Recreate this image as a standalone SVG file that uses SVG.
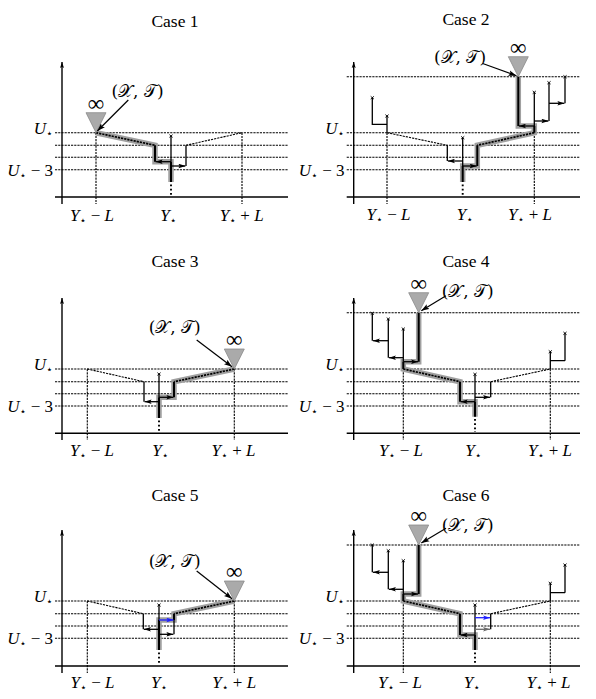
<svg xmlns="http://www.w3.org/2000/svg" width="596" height="699" viewBox="0 0 596 699">
<style>
text{font-family:"Liberation Serif","DejaVu Serif",serif;fill:#000}
.t{font-size:17.5px}
.m{font-size:17px}
.it{font-style:italic}
.s{font-size:11px;font-family:"DejaVu Sans",sans-serif}
.inf{font-size:23px}
.cal{font-size:17px;font-family:"DejaVu Serif","DejaVu Sans","Noto Sans",serif}
.ax{stroke:#000;stroke-width:1.4;fill:none}
.dh{stroke:#000;stroke-width:1.1;stroke-dasharray:2.2 1;fill:none}
.dd{stroke:#000;stroke-width:1.1;stroke-dasharray:2.2 1;fill:none}
.halo{stroke:#a0a0a0;stroke-width:5.5;fill:none;stroke-linejoin:miter}
.tk{stroke:#000;stroke-width:2;fill:none}
.tkd{stroke:#000;stroke-width:1.7;stroke-dasharray:2.2 1;fill:none}
.ln{stroke:#000;stroke-width:1.3;fill:none}
.ar{stroke:#000;stroke-width:1.3;fill:none;marker-end:url(#ah)}
.arb{stroke:#1f1fff;stroke-width:1.3;fill:none;marker-end:url(#ahb)}
.arg{stroke:#6a6a6a;stroke-width:1.3;fill:none;marker-end:url(#ahg)}
.dots{stroke:#000;stroke-width:1.9;stroke-dasharray:1.8 2.4;fill:none}
.tri{fill:#aaa;stroke:#8a8a8a;stroke-width:0.8}
.ptr{stroke:#000;stroke-width:1.2;fill:none;marker-end:url(#ahp)}
</style>
<defs>
<marker id="ah" viewBox="0 0 7 5" refX="7" refY="2.5" markerWidth="7" markerHeight="5" markerUnits="userSpaceOnUse" orient="auto"><path d="M0,0.2L7,2.5L0,4.8L1.4,2.5z" fill="#000"/></marker>
<marker id="ahb" viewBox="0 0 7 5" refX="7" refY="2.5" markerWidth="7" markerHeight="5" markerUnits="userSpaceOnUse" orient="auto"><path d="M0,0.2L7,2.5L0,4.8L1.4,2.5z" fill="#1f1fff"/></marker>
<marker id="ahg" viewBox="0 0 7 5" refX="7" refY="2.5" markerWidth="7" markerHeight="5" markerUnits="userSpaceOnUse" orient="auto"><path d="M0,0.2L7,2.5L0,4.8L1.4,2.5z" fill="#6a6a6a"/></marker>
<marker id="ahp" viewBox="0 0 8 6" refX="8" refY="3" markerWidth="8" markerHeight="6" markerUnits="userSpaceOnUse" orient="auto"><path d="M0,0.2L8,3L0,5.8L1.6,3z" fill="#000"/></marker>
<marker id="ahx" viewBox="0 0 6 5" refX="6" refY="2.5" markerWidth="6" markerHeight="5" markerUnits="userSpaceOnUse" orient="auto"><path d="M0,0.5L6,2.5L0,4.5L1.2,2.5z" fill="#000"/></marker>
<path id="xm" d="M-1.6,-1.4L1.6,1.4M-1.6,1.4L1.6,-1.4" stroke="#000" stroke-width="0.9" fill="none"/>
</defs>

<!-- ================= CASE 1 ================= -->
<g id="case1">
<text class="t" x="175" y="27" text-anchor="middle">Case 1</text>
<g id="c1-axes">
<line class="ax" x1="62" y1="204" x2="62" y2="62" marker-end="url(#ahx)"/>
<line class="ax" x1="55" y1="197" x2="288" y2="197"/>
<path class="dh" d="M55,132.7H288M55,145.3H288M55,157.3H288M55,169.7H288M96,132.7V204M242,132.7V204"/>
<text class="m" x="53" y="133.5" text-anchor="end"><tspan class="it">U</tspan><tspan class="s" dy="3">⋆</tspan></text>
<text class="m" x="53" y="175.5" text-anchor="end"><tspan class="it">U</tspan><tspan class="s" dy="3">⋆</tspan><tspan dy="-3"> − 3</tspan></text>
<text class="m" x="92" y="221" text-anchor="middle"><tspan class="it">Y</tspan><tspan class="s" dy="3">⋆</tspan><tspan dy="-3"> − </tspan><tspan class="it">L</tspan></text>
<text class="m" x="168.5" y="221" text-anchor="middle"><tspan class="it">Y</tspan><tspan class="s" dy="3">⋆</tspan></text>
<text class="m" x="241.7" y="221" text-anchor="middle"><tspan class="it">Y</tspan><tspan class="s" dy="3">⋆</tspan><tspan dy="-3"> + </tspan><tspan class="it">L</tspan></text>
</g>
<g id="c1-connectors">
<polyline class="halo" points="96,132.7 155,145.3 155,161.7 171,161.7 171,182"/>
<line class="tkd" x1="96" y1="132.7" x2="155" y2="145.3"/>
<path class="tk" d="M155,145.3V161.7M171,161.7V182"/>
<path class="ln" d="M171,136V161.7M186,145.3V166"/>
<line class="ar" x1="171" y1="161.7" x2="155.6" y2="161.7"/>
<line class="ar" x1="171" y1="166" x2="185.4" y2="166"/>
<line class="dd" x1="186" y1="145.3" x2="242" y2="132.7"/>
<line class="dots" x1="171" y1="184.5" x2="171" y2="196"/>
<use href="#xm" x="171" y="136"/>
</g>
<g id="c1-source">
<polygon class="tri" points="86,112.7 106,112.7 96,132.7"/>
<text class="inf" x="96" y="111" text-anchor="middle">∞</text>
<text class="cal" x="137.5" y="97" text-anchor="middle">(𝒳, 𝒯)</text>
<line class="ptr" x1="128.3" y1="100" x2="97.3" y2="131"/>
</g>
</g>

<!-- ================= CASE 2 ================= -->
<g id="case2">
<text class="t" x="466" y="25" text-anchor="middle">Case 2</text>
<g id="c2-axes">
<line class="ax" x1="353.7" y1="204" x2="353.7" y2="62" marker-end="url(#ahx)"/>
<line class="ax" x1="346.7" y1="197" x2="580" y2="197"/>
<path class="dh" d="M346.7,76.7H580M346.7,132.7H580M346.7,145.3H580M346.7,157.3H580M346.7,169.7H580M387,132.7V204M534.3,132.7V204"/>
<text class="m" x="344.5" y="133.5" text-anchor="end"><tspan class="it">U</tspan><tspan class="s" dy="3">⋆</tspan></text>
<text class="m" x="344.5" y="175.5" text-anchor="end"><tspan class="it">U</tspan><tspan class="s" dy="3">⋆</tspan><tspan dy="-3"> − 3</tspan></text>
<text class="m" x="388.5" y="220" text-anchor="middle"><tspan class="it">Y</tspan><tspan class="s" dy="3">⋆</tspan><tspan dy="-3"> − </tspan><tspan class="it">L</tspan></text>
<text class="m" x="465" y="220" text-anchor="middle"><tspan class="it">Y</tspan><tspan class="s" dy="3">⋆</tspan></text>
<text class="m" x="530" y="220" text-anchor="middle"><tspan class="it">Y</tspan><tspan class="s" dy="3">⋆</tspan><tspan dy="-3"> + </tspan><tspan class="it">L</tspan></text>
</g>
<g id="c2-connectors">
<polyline class="halo" points="518.3,76.7 518.3,126 534.3,126 534.3,132.7 477.3,145.3 477.3,166 462.7,166 462.7,182"/>
<line class="tkd" x1="534.3" y1="132.7" x2="477.3" y2="145.3"/>
<path class="tk" d="M518.3,76.7V126M534.3,126V132.7M477.3,145.3V166M462.7,166V182"/>
<path class="ln" d="M534.3,92.3V126M549,82.7V121M565,76.7V103.3M387,116V132.7M372.3,97.7V124.3H387M447.3,145.3V161M462.7,137.7V166"/>
<line class="ar" x1="534.3" y1="126" x2="518.9" y2="126"/>
<line class="ar" x1="534.3" y1="121" x2="548.4" y2="121"/>
<line class="ar" x1="549" y1="103.3" x2="564.4" y2="103.3"/>
<line class="ar" x1="462.7" y1="161" x2="447.9" y2="161"/>
<line class="ar" x1="462.7" y1="166" x2="476.7" y2="166"/>
<line class="dd" x1="387" y1="132.7" x2="447.3" y2="145.3"/>
<line class="dots" x1="462.7" y1="184.5" x2="462.7" y2="196"/>
<use href="#xm" x="534.3" y="92.3"/>
<use href="#xm" x="549" y="82.7"/>
<use href="#xm" x="565" y="76.7"/>
<use href="#xm" x="387" y="116"/>
<use href="#xm" x="372.3" y="97.7"/>
<use href="#xm" x="462.7" y="137.7"/>
</g>
<g id="c2-source">
<polygon class="tri" points="508.3,56.7 528.3,56.7 518.3,76.7"/>
<text class="inf" x="518.3" y="55" text-anchor="middle">∞</text>
<text class="cal" x="460" y="63" text-anchor="middle">(𝒳, 𝒯)</text>
<line class="ptr" x1="482.7" y1="63.5" x2="516.5" y2="75.8"/>
</g>
</g>

<!-- ================= CASE 3 ================= -->
<g id="case3">
<text class="t" x="175" y="267" text-anchor="middle">Case 3</text>
<g id="c3-axes">
<line class="ax" x1="62" y1="440" x2="62" y2="298" marker-end="url(#ahx)"/>
<line class="ax" x1="55" y1="433.3" x2="288" y2="433.3"/>
<path class="dh" d="M55,369H288M55,381.7H288M55,393.7H288M55,406H288M87.3,369V440M234.3,369V440"/>
<text class="m" x="53" y="370" text-anchor="end"><tspan class="it">U</tspan><tspan class="s" dy="3">⋆</tspan></text>
<text class="m" x="53" y="411.5" text-anchor="end"><tspan class="it">U</tspan><tspan class="s" dy="3">⋆</tspan><tspan dy="-3"> − 3</tspan></text>
<text class="m" x="92" y="455.5" text-anchor="middle"><tspan class="it">Y</tspan><tspan class="s" dy="3">⋆</tspan><tspan dy="-3"> − </tspan><tspan class="it">L</tspan></text>
<text class="m" x="160.5" y="455.5" text-anchor="middle"><tspan class="it">Y</tspan><tspan class="s" dy="3">⋆</tspan></text>
<text class="m" x="233.5" y="455.5" text-anchor="middle"><tspan class="it">Y</tspan><tspan class="s" dy="3">⋆</tspan><tspan dy="-3"> + </tspan><tspan class="it">L</tspan></text>
</g>
<g id="c3-connectors">
<polyline class="halo" points="234.3,369 174,381.7 174,397.3 159,397.3 159,418"/>
<line class="tkd" x1="234.3" y1="369" x2="174" y2="381.7"/>
<path class="tk" d="M174,381.7V397.3M159,397.3V418"/>
<path class="ln" d="M159,374V397.3M144,381.7V401.7"/>
<line class="ar" x1="159" y1="397.3" x2="173.4" y2="397.3"/>
<line class="ar" x1="159" y1="401.7" x2="144.6" y2="401.7"/>
<line class="dd" x1="87.3" y1="369" x2="144" y2="381.7"/>
<line class="dots" x1="159" y1="420.5" x2="159" y2="432"/>
<use href="#xm" x="159" y="374"/>
</g>
<g id="c3-source">
<polygon class="tri" points="224.3,349 244.3,349 234.3,369"/>
<text class="inf" x="234.3" y="347.3" text-anchor="middle">∞</text>
<text class="cal" x="174.7" y="333" text-anchor="middle">(𝒳, 𝒯)</text>
<line class="ptr" x1="196.7" y1="340" x2="232" y2="366.8"/>
</g>
</g>

<!-- ================= CASE 4 ================= -->
<g id="case4">
<text class="t" x="466" y="267" text-anchor="middle">Case 4</text>
<g id="c4-axes">
<line class="ax" x1="353.7" y1="440" x2="353.7" y2="298" marker-end="url(#ahx)"/>
<line class="ax" x1="346.7" y1="433.3" x2="580" y2="433.3"/>
<path class="dh" d="M346.7,312.7H580M346.7,369H580M346.7,381.7H580M346.7,393.7H580M346.7,406H580M403.3,369V440M550.3,369V440"/>
<text class="m" x="344.5" y="370" text-anchor="end"><tspan class="it">U</tspan><tspan class="s" dy="3">⋆</tspan></text>
<text class="m" x="344.5" y="411.5" text-anchor="end"><tspan class="it">U</tspan><tspan class="s" dy="3">⋆</tspan><tspan dy="-3"> − 3</tspan></text>
<text class="m" x="401" y="455.5" text-anchor="middle"><tspan class="it">Y</tspan><tspan class="s" dy="3">⋆</tspan><tspan dy="-3"> − </tspan><tspan class="it">L</tspan></text>
<text class="m" x="473.5" y="455.5" text-anchor="middle"><tspan class="it">Y</tspan><tspan class="s" dy="3">⋆</tspan></text>
<text class="m" x="550" y="455.5" text-anchor="middle"><tspan class="it">Y</tspan><tspan class="s" dy="3">⋆</tspan><tspan dy="-3"> + </tspan><tspan class="it">L</tspan></text>
</g>
<g id="c4-connectors">
<polyline class="halo" points="418.7,312.7 418.7,361.7 403.3,361.7 403.3,369 460,381.7 460,401.7 475,401.7 475,416.7"/>
<line class="tkd" x1="403.3" y1="369" x2="460" y2="381.7"/>
<path class="tk" d="M418.7,312.7V361.7M403.3,361.7V369M460,381.7V401.7M475,401.7V416.7"/>
<path class="ln" d="M403.3,329V361.7M388.3,319V357.7M372.3,313.3V340.7M475,374.3V401.7M490.7,381.7V397.3M550.3,351.7V369M550.3,360.7H565M565,333.3V360.7"/>
<line class="ar" x1="403.3" y1="361.7" x2="418.1" y2="361.7"/>
<line class="ar" x1="403.3" y1="357.7" x2="388.9" y2="357.7"/>
<line class="ar" x1="388.3" y1="340.7" x2="372.9" y2="340.7"/>
<line class="ar" x1="475" y1="401.7" x2="460.6" y2="401.7"/>
<line class="ar" x1="475" y1="397.3" x2="490.1" y2="397.3"/>
<line class="dd" x1="490.7" y1="381.7" x2="550.3" y2="369"/>
<line class="dots" x1="475" y1="419" x2="475" y2="432"/>
<use href="#xm" x="403.3" y="329"/>
<use href="#xm" x="388.3" y="319"/>
<use href="#xm" x="372.3" y="313.3"/>
<use href="#xm" x="475" y="374.3"/>
<use href="#xm" x="550.3" y="351.7"/>
<use href="#xm" x="565" y="333.3"/>
</g>
<g id="c4-source">
<polygon class="tri" points="408.7,292.7 428.7,292.7 418.7,312.7"/>
<text class="inf" x="418.7" y="291" text-anchor="middle">∞</text>
<text class="cal" x="467.7" y="297" text-anchor="middle">(𝒳, 𝒯)</text>
<line class="ptr" x1="446" y1="295.7" x2="421.3" y2="310.7"/>
</g>
</g>

<!-- ================= CASE 5 ================= -->
<g id="case5">
<text class="t" x="175" y="501" text-anchor="middle">Case 5</text>
<g id="c5-axes">
<line class="ax" x1="62" y1="673" x2="62" y2="530" marker-end="url(#ahx)"/>
<line class="ax" x1="55" y1="666" x2="288" y2="666"/>
<path class="dh" d="M55,601H288M55,613.7H288M55,626H288M55,638.3H288M87.3,601V673M234.3,601V673"/>
<text class="m" x="53" y="602" text-anchor="end"><tspan class="it">U</tspan><tspan class="s" dy="3">⋆</tspan></text>
<text class="m" x="53" y="644" text-anchor="end"><tspan class="it">U</tspan><tspan class="s" dy="3">⋆</tspan><tspan dy="-3"> − 3</tspan></text>
<text class="m" x="92.5" y="688" text-anchor="middle"><tspan class="it">Y</tspan><tspan class="s" dy="3">⋆</tspan><tspan dy="-3"> − </tspan><tspan class="it">L</tspan></text>
<text class="m" x="159.2" y="688" text-anchor="middle"><tspan class="it">Y</tspan><tspan class="s" dy="3">⋆</tspan></text>
<text class="m" x="234.2" y="688" text-anchor="middle"><tspan class="it">Y</tspan><tspan class="s" dy="3">⋆</tspan><tspan dy="-3"> + </tspan><tspan class="it">L</tspan></text>
</g>
<g id="c5-connectors">
<polyline class="halo" points="234.3,601 174,613.7 174,620 159,620 159,650"/>
<line class="tkd" x1="234.3" y1="601" x2="174" y2="613.7"/>
<path class="tk" d="M174,613.7V620M159,620V650"/>
<path class="ln" d="M174,613.7V634.3M159,605V650M143.3,613.7V629.3"/>
<line class="arb" x1="159" y1="620" x2="173.4" y2="620"/>
<line class="ar" x1="159" y1="634.3" x2="173.4" y2="634.3"/>
<line class="ar" x1="159" y1="629.3" x2="143.9" y2="629.3"/>
<line class="dd" x1="87.3" y1="601" x2="143.3" y2="613.7"/>
<line class="dots" x1="159" y1="652.5" x2="159" y2="665"/>
<use href="#xm" x="159" y="605"/>
</g>
<g id="c5-source">
<polygon class="tri" points="224.3,581 244.3,581 234.3,601"/>
<text class="inf" x="234.3" y="579.3" text-anchor="middle">∞</text>
<text class="cal" x="174.7" y="567" text-anchor="middle">(𝒳, 𝒯)</text>
<line class="ptr" x1="196.7" y1="571" x2="232" y2="598.8"/>
</g>
</g>

<!-- ================= CASE 6 ================= -->
<g id="case6">
<text class="t" x="466" y="501" text-anchor="middle">Case 6</text>
<g id="c6-axes">
<line class="ax" x1="353.7" y1="673" x2="353.7" y2="530" marker-end="url(#ahx)"/>
<line class="ax" x1="346.7" y1="666" x2="580" y2="666"/>
<path class="dh" d="M346.7,545H580M346.7,601H580M346.7,613.7H580M346.7,626H580M346.7,638.3H580M403.3,601V673M550.3,601V673"/>
<text class="m" x="344.5" y="602" text-anchor="end"><tspan class="it">U</tspan><tspan class="s" dy="3">⋆</tspan></text>
<text class="m" x="344.5" y="644" text-anchor="end"><tspan class="it">U</tspan><tspan class="s" dy="3">⋆</tspan><tspan dy="-3"> − 3</tspan></text>
<text class="m" x="400" y="688" text-anchor="middle"><tspan class="it">Y</tspan><tspan class="s" dy="3">⋆</tspan><tspan dy="-3"> − </tspan><tspan class="it">L</tspan></text>
<text class="m" x="472" y="688" text-anchor="middle"><tspan class="it">Y</tspan><tspan class="s" dy="3">⋆</tspan></text>
<text class="m" x="548.5" y="688" text-anchor="middle"><tspan class="it">Y</tspan><tspan class="s" dy="3">⋆</tspan><tspan dy="-3"> + </tspan><tspan class="it">L</tspan></text>
</g>
<g id="c6-connectors">
<polyline class="halo" points="418.7,545 418.7,594 403.3,594 403.3,601 460,613.7 460,635 475,635 475,650"/>
<line class="tkd" x1="403.3" y1="601" x2="460" y2="613.7"/>
<path class="tk" d="M418.7,545V594M403.3,594V601M460,613.7V635M475,635V650"/>
<path class="ln" d="M403.3,560.7V594M388.3,550.7V589.3M372.3,545V572.3M475,605V635M490.7,613.7V629.3M550.3,583.3V601M550.3,592.7H565M565,565V592.7"/>
<line class="ar" x1="403.3" y1="594" x2="418.1" y2="594"/>
<line class="ar" x1="403.3" y1="589.3" x2="388.9" y2="589.3"/>
<line class="ar" x1="388.3" y1="572.3" x2="372.9" y2="572.3"/>
<line class="ar" x1="475" y1="635" x2="460.6" y2="635"/>
<line class="arb" x1="475" y1="617.7" x2="490.1" y2="617.7"/>
<line class="arg" x1="475" y1="629.3" x2="490.1" y2="629.3"/>
<line class="dd" x1="490.7" y1="613.7" x2="550.3" y2="601"/>
<line class="dots" x1="475" y1="652.5" x2="475" y2="665"/>
<use href="#xm" x="403.3" y="560.7"/>
<use href="#xm" x="388.3" y="550.7"/>
<use href="#xm" x="372.3" y="545"/>
<use href="#xm" x="475" y="605"/>
<use href="#xm" x="550.3" y="583.3"/>
<use href="#xm" x="565" y="565"/>
</g>
<g id="c6-source">
<polygon class="tri" points="408.7,525 428.7,525 418.7,545"/>
<text class="inf" x="418.7" y="523.3" text-anchor="middle">∞</text>
<text class="cal" x="467.7" y="531" text-anchor="middle">(𝒳, 𝒯)</text>
<line class="ptr" x1="446" y1="528.3" x2="421.3" y2="543"/>
</g>
</g>
</svg>
